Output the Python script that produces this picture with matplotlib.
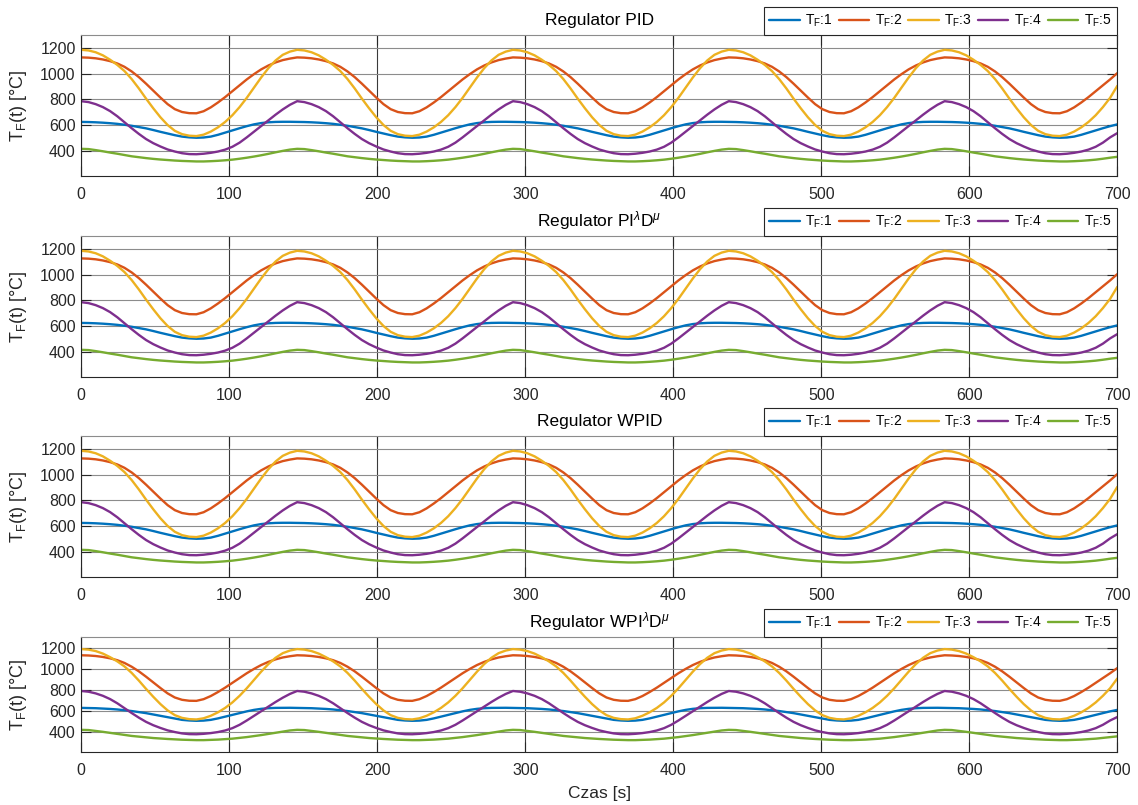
import numpy as np
import matplotlib
matplotlib.use("Agg")
import matplotlib.pyplot as plt

plt.rcParams['font.family'] = ['Liberation Sans', 'DejaVu Sans']
plt.rcParams['mathtext.fontset'] = 'custom'
plt.rcParams['mathtext.rm'] = 'Liberation Sans'
plt.rcParams['mathtext.it'] = 'Liberation Sans:italic'
plt.rcParams['mathtext.bf'] = 'Liberation Sans:bold'

# ---------------- data ----------------
czas = np.linspace(0, 700, 145)  # time axis [s]

T_F1 = [625, 624, 622, 619, 615, 610, 603, 595, 585, 575, 562, 548, 535, 522, 511,
        505, 502, 504, 511, 525, 542, 559, 576, 592, 606, 616, 622, 625, 626, 626,
        625, 624, 622, 619, 615, 610, 603, 595, 585, 575, 562, 548, 535, 522, 511,
        505, 502, 504, 511, 525, 542, 559, 576, 592, 606, 616, 622, 625, 626, 626,
        625, 624, 622, 619, 615, 610, 603, 595, 585, 575, 562, 548, 535, 522, 511,
        505, 502, 504, 511, 525, 542, 559, 576, 592, 606, 616, 622, 625, 626, 626,
        625, 624, 622, 619, 615, 610, 603, 595, 585, 575, 562, 548, 535, 522, 511,
        505, 502, 504, 511, 525, 542, 559, 576, 592, 606, 616, 622, 625, 626, 626,
        625, 624, 622, 619, 615, 610, 603, 595, 585, 575, 562, 548, 535, 522, 511,
        505, 502, 504, 511, 525, 542, 559, 576, 592, 606]

T_F2 = [1126, 1124, 1119, 1110, 1097, 1079, 1053, 1017, 973, 922, 868, 814, 763, 724, 702,
        693, 692, 708, 738, 776, 818, 864, 910, 955, 996, 1033, 1063, 1087, 1105, 1117,
        1126, 1124, 1119, 1110, 1097, 1079, 1053, 1017, 973, 922, 868, 814, 763, 724, 702,
        693, 692, 708, 738, 776, 818, 864, 910, 955, 996, 1033, 1063, 1087, 1105, 1117,
        1126, 1124, 1119, 1110, 1097, 1079, 1053, 1017, 973, 922, 868, 814, 763, 724, 702,
        693, 692, 708, 738, 776, 818, 864, 910, 955, 996, 1033, 1063, 1087, 1105, 1117,
        1126, 1124, 1119, 1110, 1097, 1079, 1053, 1017, 973, 922, 868, 814, 763, 724, 702,
        693, 692, 708, 738, 776, 818, 864, 910, 955, 996, 1033, 1063, 1087, 1105, 1117,
        1126, 1124, 1119, 1110, 1097, 1079, 1053, 1017, 973, 922, 868, 814, 763, 724, 702,
        693, 692, 708, 738, 776, 818, 864, 910, 955, 1004]

T_F3 = [1185, 1180, 1166, 1142, 1108, 1068, 1020, 958, 885, 806, 731, 661, 601, 556, 530,
        518, 515, 526, 550, 583, 625, 677, 740, 812, 891, 970, 1042, 1102, 1146, 1171,
        1185, 1180, 1166, 1142, 1108, 1068, 1020, 958, 885, 806, 731, 661, 601, 556, 530,
        518, 515, 526, 550, 583, 625, 677, 740, 812, 891, 970, 1042, 1102, 1146, 1171,
        1185, 1180, 1166, 1142, 1108, 1068, 1020, 958, 885, 806, 731, 661, 601, 556, 530,
        518, 515, 526, 550, 583, 625, 677, 740, 812, 891, 970, 1042, 1102, 1146, 1171,
        1185, 1180, 1166, 1142, 1108, 1068, 1020, 958, 885, 806, 731, 661, 601, 556, 530,
        518, 515, 526, 550, 583, 625, 677, 740, 812, 891, 970, 1042, 1102, 1146, 1171,
        1185, 1180, 1166, 1142, 1108, 1068, 1020, 958, 885, 806, 731, 661, 601, 556, 530,
        518, 515, 526, 550, 583, 625, 677, 740, 812, 905]

T_F4 = [786, 779, 763, 740, 709, 669, 622, 576, 532, 492, 460, 434, 411, 395, 382,
        375, 374, 378, 385, 395, 410, 432, 464, 505, 549, 593, 637, 681, 722, 758,
        786, 779, 763, 740, 709, 669, 622, 576, 532, 492, 460, 434, 411, 395, 382,
        375, 374, 378, 385, 395, 410, 432, 464, 505, 549, 593, 637, 681, 722, 758,
        786, 779, 763, 740, 709, 669, 622, 576, 532, 492, 460, 434, 411, 395, 382,
        375, 374, 378, 385, 395, 410, 432, 464, 505, 549, 593, 637, 681, 722, 758,
        786, 779, 763, 740, 709, 669, 622, 576, 532, 492, 460, 434, 411, 395, 382,
        375, 374, 378, 385, 395, 410, 432, 464, 505, 549, 593, 637, 681, 722, 758,
        786, 779, 763, 740, 709, 669, 622, 576, 532, 492, 460, 434, 411, 395, 382,
        375, 374, 378, 385, 395, 410, 432, 464, 505, 538]

T_F5 = [416, 414, 406, 397, 387, 378, 368, 358, 351, 344, 338, 333, 329, 325, 322,
        320, 318, 318, 320, 323, 327, 332, 339, 347, 356, 366, 377, 389, 400, 410,
        416, 414, 406, 397, 387, 378, 368, 358, 351, 344, 338, 333, 329, 325, 322,
        320, 318, 318, 320, 323, 327, 332, 339, 347, 356, 366, 377, 389, 400, 410,
        416, 414, 406, 397, 387, 378, 368, 358, 351, 344, 338, 333, 329, 325, 322,
        320, 318, 318, 320, 323, 327, 332, 339, 347, 356, 366, 377, 389, 400, 410,
        416, 414, 406, 397, 387, 378, 368, 358, 351, 344, 338, 333, 329, 325, 322,
        320, 318, 318, 320, 323, 327, 332, 339, 347, 356, 366, 377, 389, 400, 410,
        416, 414, 406, 397, 387, 378, 368, 358, 351, 344, 338, 333, 329, 325, 322,
        320, 318, 318, 320, 323, 327, 332, 339, 347, 354]

series = [T_F1, T_F2, T_F3, T_F4, T_F5]
series_labels = [r'T$_{\rm F}$:1', r'T$_{\rm F}$:2', r'T$_{\rm F}$:3',
                 r'T$_{\rm F}$:4', r'T$_{\rm F}$:5']
titles = ['Regulator PID', r'Regulator PI$^{\lambda}$D$^{\mu}$',
          'Regulator WPID', r'Regulator WPI$^{\lambda}$D$^{\mu}$']
x_ticks = [0, 100, 200, 300, 400, 500, 600, 700]
y_ticks = [400, 600, 800, 1000, 1200]

colors = ['#0072BD', '#D95319', '#EDB120', '#7E2F8E', '#77AC30']

# ---------------- figure ----------------
W, H = 1138, 805
fig = plt.figure(figsize=(W / 100, H / 100), dpi=100)

left_px, right_px = 81.3, 1117.3
panels_px = [(35, 176), (236, 377), (436, 577), (637, 752)]
axc = '#262626'

for i, (top, bot) in enumerate(panels_px):
    ax = fig.add_axes([left_px / W, 1 - bot / H, (right_px - left_px) / W, (bot - top) / H])
    for s, lab, c in zip(series, series_labels, colors):
        ax.plot(czas, s, color=c, lw=1.7, label=lab, solid_capstyle='round')
    ax.set_xlim(0, 700)
    ax.set_ylim(205, 1300)
    ax.set_xticks(x_ticks)
    ax.set_yticks(y_ticks)
    ax.grid(True, axis='x', color='#3a3a3a', lw=0.8)
    ax.grid(True, axis='y', color='#8c8c8c', lw=0.8)
    ax.set_axisbelow(True)
    for sp in ax.spines.values():
        sp.set_color(axc)
        sp.set_linewidth(0.8)
    ax.spines['top'].set_color('#8c8c8c')
    ax.tick_params(axis='both', which='both', direction='in', length=7, width=0.8,
                   colors=axc, labelsize=11.5, top=True, right=True)
    ax.tick_params(axis='y', pad=4)
    ax.tick_params(axis='x', pad=8)
    ax.set_title(titles[i], fontsize=12.5, pad=7, color='black')
    ax.set_ylabel(r'T$_{\rm F}$(t) [°C]', fontsize=13, color=axc)
    ax.yaxis.set_label_coords(-0.0505, 0.5)
    leg = ax.legend(loc='lower right', bbox_to_anchor=(1.0, 1.0), ncol=5,
                    fontsize=10, frameon=True, fancybox=False, framealpha=1,
                    edgecolor=axc, borderaxespad=0, handlelength=2.2,
                    handletextpad=0.4, columnspacing=0.4, borderpad=0.4)
    leg.get_frame().set_linewidth(0.8)
    if i == 3:
        ax.set_xlabel('Czas [s]', fontsize=12.5, color=axc, labelpad=6)

fig.savefig('out.png', dpi=100)
